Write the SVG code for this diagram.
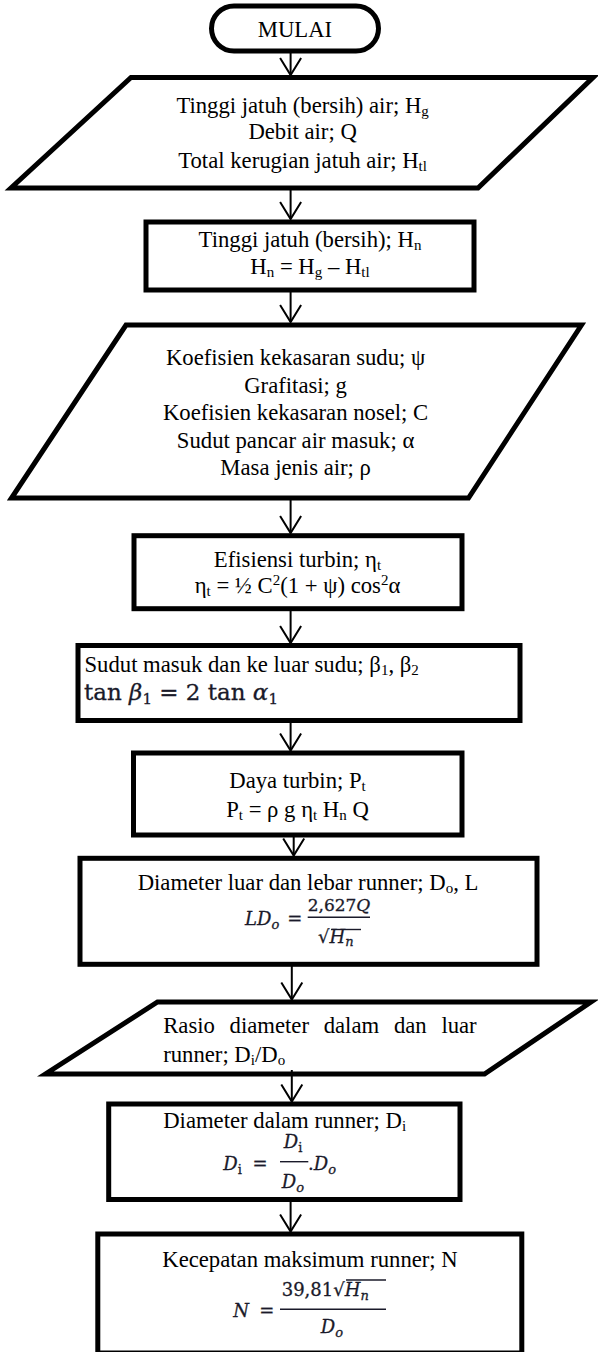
<svg xmlns="http://www.w3.org/2000/svg" width="598" height="1352" viewBox="0 0 598 1352">
<style>
.box{fill:#fff;stroke:#000;stroke-width:5}
.t{font-family:"Liberation Serif","Times New Roman",serif;font-size:22.7px;fill:#000}
.c{text-anchor:middle}
.sb{font-size:15px}
.m{font-family:"DejaVu Serif",serif;fill:#1a1a2a;stroke:#1a1a2a;stroke-width:0.3}
.i{font-style:italic}
.conn line{stroke:#000;stroke-width:2;marker-end:url(#ah)}
.fr{stroke:#1a1a2a;stroke-width:1.4}
</style>
<defs>
<marker id="ah" markerUnits="userSpaceOnUse" markerWidth="30" markerHeight="30" viewBox="-20 -15 30 30" refX="0" refY="0" orient="auto" overflow="visible">
<path d="M-17,-10.5 L0,0 L-17,10.5" fill="none" stroke="#000" stroke-width="2"/>
</marker>
</defs>

<g id="start">
<rect class="box" x="211.5" y="6" width="167" height="45" rx="22.5"/>
<text class="t c" x="295" y="37">MULAI</text>
</g>

<g id="input1">
<polygon class="box" points="131,77.5 593,77.5 478,188 11,188"/>
<text class="t c" x="302.6" y="113.3">Tinggi jatuh (bersih) air; H<tspan class="sb" dy="3">g</tspan></text>
<text class="t c" x="302.6" y="139.3">Debit air; Q</text>
<text class="t c" x="302.6" y="168.3">Total kerugian jatuh air; H<tspan class="sb" dy="3">tl</tspan></text>
</g>

<g id="netHead">
<rect class="box" x="146" y="222" width="328" height="68"/>
<text class="t c" x="310" y="246.7">Tinggi jatuh (bersih); H<tspan class="sb" dy="3">n</tspan></text>
<text class="t c" x="310" y="274">H<tspan class="sb" dy="3">n</tspan><tspan dy="-3"> = H</tspan><tspan class="sb" dy="3">g</tspan><tspan dy="-3"> – H</tspan><tspan class="sb" dy="3">tl</tspan></text>
</g>

<g id="input2">
<polygon class="box" points="126,325 581.5,325 468.5,498 11.5,498"/>
<text class="t c" x="295.6" y="365">Koefisien kekasaran sudu; ψ</text>
<text class="t c" x="295.6" y="392.5">Grafitasi; g</text>
<text class="t c" x="295.6" y="420">Koefisien kekasaran nosel; C</text>
<text class="t c" x="295.6" y="447.5">Sudut pancar air masuk; α</text>
<text class="t c" x="295.6" y="475">Masa jenis air; ρ</text>
</g>

<g id="efficiency">
<rect class="box" x="134" y="535.7" width="328" height="73"/>
<text class="t c" x="297.5" y="566.7">Efisiensi turbin; η<tspan class="sb" dy="3">t</tspan></text>
<text class="t c" x="297.5" y="592.7">η<tspan class="sb" dy="3">t</tspan><tspan dy="-3"> = ½ C</tspan><tspan class="sb" dy="-8">2</tspan><tspan dy="8">(1 + ψ) cos</tspan><tspan class="sb" dy="-8">2</tspan><tspan dy="8">α</tspan></text>
</g>

<g id="bladeAngle">
<rect class="box" x="78" y="645.5" width="442" height="75"/>
<text class="t" x="84.5" y="671.7">Sudut masuk dan ke luar sudu; β<tspan class="sb" dy="3">1</tspan><tspan dy="-3">, β</tspan><tspan class="sb" dy="3">2</tspan></text>
<text class="m" font-size="23" x="84" y="700">tan <tspan class="i">β</tspan><tspan font-size="15" dy="4">1</tspan><tspan dy="-4"> = 2 tan </tspan><tspan class="i">α</tspan><tspan font-size="15" dy="4">1</tspan></text>
</g>

<g id="power">
<rect class="box" x="133.5" y="753" width="328.5" height="82"/>
<text class="t c" x="297.5" y="788.3">Daya turbin; P<tspan class="sb" dy="3">t</tspan></text>
<text class="t c" x="297.5" y="816.7">P<tspan class="sb" dy="3">t</tspan><tspan dy="-3"> = ρ g η</tspan><tspan class="sb" dy="3">t</tspan><tspan dy="-3"> H</tspan><tspan class="sb" dy="3">n</tspan><tspan dy="-3"> Q</tspan></text>
</g>

<g id="outerDiameter">
<rect class="box" x="80" y="858.3" width="457" height="106"/>
<text class="t c" x="308" y="890">Diameter luar dan lebar runner; D<tspan class="sb" dy="3">o</tspan><tspan dy="-3">, L</tspan></text>
<text class="m i" font-size="18" x="245" y="925">LD<tspan font-size="13" dy="4">o</tspan></text>
<text class="m c" font-size="18" x="294.7" y="925">=</text>
<line class="fr" x1="307.7" y1="917.3" x2="370" y2="917.3"/>
<text class="m c" font-size="17" x="339" y="911">2,627<tspan class="i">Q</tspan></text>
<text class="m" font-size="18" x="318" y="943">√<tspan class="i">H</tspan><tspan class="i" font-size="13" dy="3">n</tspan></text>
<line class="fr" x1="331" y1="929.5" x2="361" y2="929.5"/>
</g>

<g id="input3">
<polygon class="box" points="157.5,1002 591,1002 484.5,1074 45.5,1074"/>
<text class="t" y="1032.7"><tspan x="163.2">Rasio</tspan><tspan x="229.6">diameter</tspan><tspan x="323.7">dalam</tspan><tspan x="393.9">dan</tspan><tspan x="441.4">luar</tspan></text>
<text class="t" x="163.2" y="1061.7">runner; D<tspan class="sb" dy="3">i</tspan><tspan dy="-3">/D</tspan><tspan class="sb" dy="3">o</tspan></text>
</g>

<g id="innerDiameter">
<rect class="box" x="108.7" y="1104" width="351.3" height="95.5"/>
<text class="t c" x="284.7" y="1128.3">Diameter dalam runner; D<tspan class="sb" dy="3">i</tspan></text>
<text class="m" font-size="18" x="223.3" y="1170"><tspan class="i">D</tspan><tspan font-size="13" dy="4">i</tspan></text>
<text class="m c" font-size="18" x="260" y="1170">=</text>
<text class="m c" font-size="18" x="293" y="1148"><tspan class="i">D</tspan><tspan font-size="13" dy="4">i</tspan></text>
<line class="fr" x1="280" y1="1161.7" x2="308.3" y2="1161.7"/>
<text class="m c i" font-size="18" x="293" y="1188">D<tspan font-size="13" dy="4">o</tspan></text>
<text class="m" font-size="18" x="308" y="1170">.<tspan class="i">D</tspan><tspan class="i" font-size="13" dy="4">o</tspan></text>
</g>

<g id="maxSpeed">
<rect class="box" x="97.8" y="1234" width="424" height="119"/>
<text class="t c" x="310" y="1266.7">Kecepatan maksimum runner; N</text>
<text class="m i" font-size="18" x="233.3" y="1316.7">N</text>
<text class="m c" font-size="18" x="266.7" y="1316.7">=</text>
<line class="fr" x1="280" y1="1309.3" x2="386" y2="1309.3"/>
<text class="m" font-size="18" x="281.7" y="1296">39,81√<tspan class="i">H</tspan><tspan class="i" font-size="13" dy="4">n</tspan></text>
<line class="fr" x1="346" y1="1280" x2="386" y2="1280"/>
<text class="m c i" font-size="18" x="332" y="1333.3">D<tspan font-size="13" dy="4">o</tspan></text>
</g>

<g id="connectors" class="conn">
<line x1="290.6" y1="53" x2="290.6" y2="75"/>
<line x1="290.6" y1="190" x2="290.6" y2="219"/>
<line x1="290.6" y1="292" x2="290.6" y2="322"/>
<line x1="290.6" y1="500" x2="290.6" y2="533"/>
<line x1="290.6" y1="611" x2="290.6" y2="643"/>
<line x1="290.6" y1="723" x2="290.6" y2="750.5"/>
<line x1="293.7" y1="837" x2="293.7" y2="855.5"/>
<line x1="291.8" y1="966" x2="291.8" y2="999.5"/>
<line x1="291.8" y1="1070" x2="291.8" y2="1101.5"/>
<line x1="290.6" y1="1201.5" x2="290.6" y2="1231.5"/>
</g>
</svg>
